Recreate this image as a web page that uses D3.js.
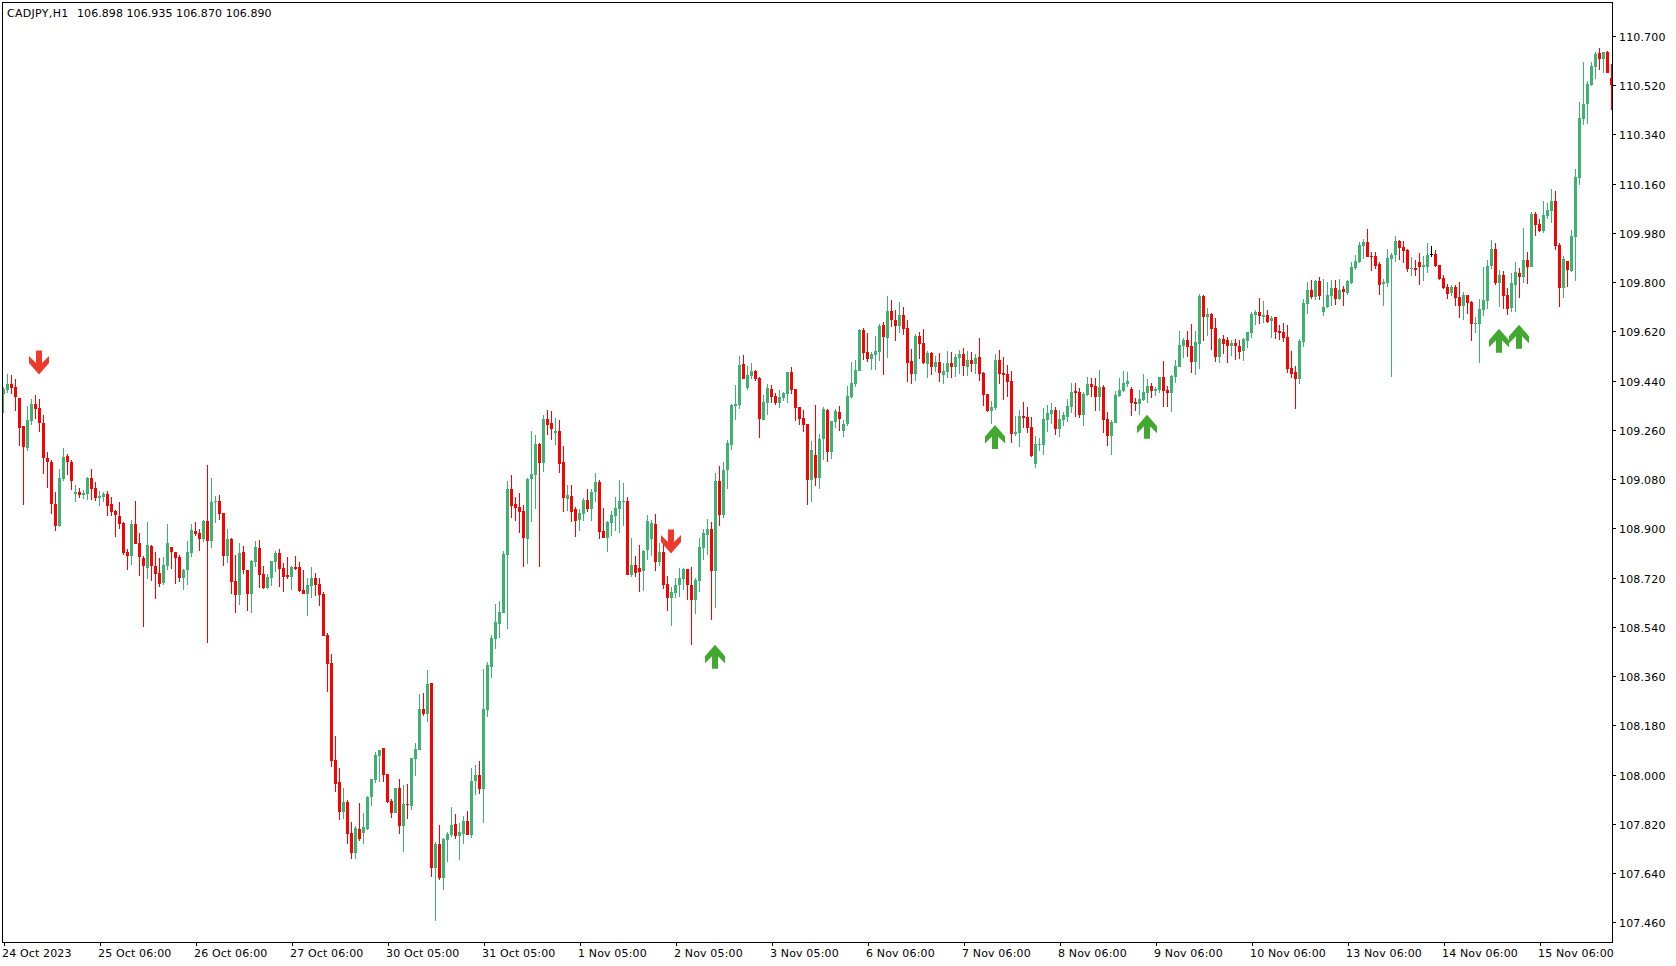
<!DOCTYPE html>
<html><head><meta charset="utf-8"><title>CADJPY,H1</title>
<script src="https://cdn.jsdelivr.net/npm/d3@7/dist/d3.min.js"></script>
<style>html,body{margin:0;padding:0;background:#fff}svg{display:block}text{font-family:"DejaVu Sans",sans-serif;font-size:11px;fill:#000}</style>
</head><body><div id="chart"></div>
<script>
const headerTitle="CADJPY,H1";
const headerValues="106.898 106.935 106.870 106.890";
const opens=[
109.391,109.406,109.428,109.417,109.376,109.274,109.194,109.292,109.354,109.340,
109.285,109.157,109.142,108.989,108.908,109.080,109.164,109.142,109.025,109.033,
109.022,109.025,109.084,109.047,109.011,109.014,109.025,108.989,108.963,108.945,
108.919,108.813,108.799,108.916,108.846,108.791,108.755,108.835,108.762,108.737,
108.700,108.762,108.832,108.813,108.795,108.718,108.748,108.810,108.890,108.883,
108.861,108.927,108.854,108.996,109.000,108.956,108.799,108.861,108.707,108.656,
108.813,108.748,108.660,108.777,108.828,108.733,108.682,108.718,108.777,108.810,
108.755,108.729,108.722,108.759,108.759,108.674,108.660,108.689,108.718,108.696,
108.660,108.510,108.408,108.053,107.973,107.863,107.900,107.786,107.713,107.801,
107.786,107.801,107.918,107.980,108.068,108.097,108.002,107.903,107.859,107.951,
107.812,107.892,107.885,108.057,108.090,108.240,108.221,108.335,107.658,107.746,
107.622,107.761,107.779,107.819,107.775,107.783,107.830,107.779,107.976,107.998,
107.947,108.236,108.393,108.495,108.550,108.590,108.802,109.044,108.989,108.978,
108.963,108.861,109.080,109.095,109.208,109.139,109.300,109.285,109.248,109.256,
109.142,109.007,109.018,108.970,108.930,108.952,109.003,108.970,109.033,109.069,
108.890,108.864,108.919,108.945,108.970,108.996,109.000,108.729,108.766,108.755,
108.744,108.821,108.861,108.916,108.777,108.813,108.696,108.645,108.663,108.693,
108.715,108.751,108.693,108.638,108.707,108.828,108.875,108.897,108.744,109.073,
108.949,109.113,109.204,109.347,109.351,109.500,109.413,109.457,109.475,109.449,
109.296,109.358,109.409,109.383,109.358,109.376,109.391,109.471,109.409,109.343,
109.303,109.281,109.076,109.168,109.084,109.226,109.332,109.179,109.288,109.325,
109.255,109.281,109.380,109.427,109.475,109.625,109.544,109.519,109.533,109.544,
109.643,109.596,109.694,109.661,109.639,109.680,109.632,109.511,109.464,109.603,
109.577,109.500,109.541,109.489,109.508,109.460,109.471,109.504,109.489,109.522,
109.537,109.489,109.515,109.500,109.526,109.468,109.391,109.329,109.340,109.515,
109.468,109.464,109.439,109.245,109.249,109.311,109.307,109.270,109.135,109.205,
109.205,109.296,109.318,109.333,109.263,109.296,109.307,109.344,109.402,109.399,
109.314,109.388,109.428,109.420,109.380,109.417,109.300,109.238,109.285,109.384,
109.402,109.428,109.409,109.362,109.355,109.369,109.395,109.420,109.402,109.406,
109.453,109.406,109.395,109.453,109.490,109.567,109.589,109.567,109.508,109.574,
109.749,109.673,109.684,109.632,109.526,109.592,109.589,109.567,109.578,109.567,
109.548,109.585,109.614,109.680,109.691,109.673,109.680,109.658,109.672,109.621,
109.618,109.599,109.486,109.471,109.446,109.581,109.720,109.771,109.745,109.804,
109.691,109.709,109.749,109.778,109.738,109.775,109.760,109.797,109.851,109.873,
109.932,109.947,109.895,109.895,109.866,109.793,109.797,109.884,109.899,109.950,
109.928,109.917,109.848,109.851,109.873,109.855,109.855,109.903,109.903,109.862,
109.815,109.782,109.760,109.782,109.745,109.713,109.753,109.727,109.647,109.647,
109.698,109.731,109.859,109.921,109.797,109.826,109.753,109.705,109.789,109.833,
109.819,109.881,109.855,110.049,110.012,109.987,110.041,110.060,110.096,109.936,
109.778,109.877,109.840,109.965,110.180,110.396,110.451,110.520,110.586,110.637,
110.616,110.641,110.546];
const highs=[
109.418,109.464,109.460,109.446,109.376,109.274,109.347,109.373,109.387,109.373,
109.314,109.179,109.150,109.033,109.117,109.194,109.172,109.150,109.058,109.047,
109.040,109.088,109.117,109.069,109.036,109.033,109.036,109.014,108.967,108.996,
108.923,108.824,108.930,109.000,108.883,108.799,108.923,108.839,108.813,108.791,
108.795,108.916,108.832,108.813,108.802,108.751,108.854,108.916,108.923,108.897,
108.930,109.131,109.084,109.018,109.022,108.956,108.897,108.865,108.802,108.846,
108.835,108.748,108.784,108.854,108.857,108.762,108.733,108.780,108.817,108.824,
108.773,108.795,108.762,108.799,108.777,108.748,108.718,108.759,108.737,108.718,
108.667,108.517,108.441,108.141,108.024,107.951,107.907,107.826,107.812,107.896,
107.859,107.922,107.984,108.082,108.090,108.097,108.002,107.911,107.951,107.984,
107.962,107.965,108.060,108.115,108.294,108.298,108.382,108.335,107.753,107.816,
107.768,107.790,107.881,107.856,107.823,107.848,107.867,108.024,108.035,108.049,
108.386,108.411,108.510,108.623,108.634,108.817,109.073,109.095,109.014,109.029,
108.985,109.084,109.256,109.241,109.212,109.314,109.332,109.329,109.303,109.296,
109.201,109.058,109.058,108.978,108.970,109.011,109.044,109.044,109.102,109.077,
108.974,108.927,108.963,109.014,109.077,109.066,109.014,108.864,108.799,108.839,
108.821,108.949,108.930,108.952,108.846,108.861,108.726,108.685,108.718,108.755,
108.755,108.751,108.758,108.718,108.864,108.897,108.934,108.923,109.102,109.128,
109.142,109.223,109.354,109.424,109.530,109.533,109.493,109.504,109.479,109.453,
109.387,109.427,109.424,109.394,109.405,109.398,109.471,109.489,109.409,109.343,
109.332,109.281,109.219,109.351,109.245,109.343,109.336,109.292,109.336,109.347,
109.296,109.420,109.508,109.515,109.628,109.632,109.614,109.544,109.603,109.647,
109.654,109.749,109.734,109.698,109.727,109.709,109.661,109.555,109.610,109.617,
109.628,109.548,109.544,109.530,109.541,109.504,109.548,109.544,109.537,109.552,
109.559,109.548,109.544,109.537,109.596,109.471,109.391,109.365,109.537,109.552,
109.526,109.497,109.475,109.311,109.333,109.362,109.344,109.307,109.238,109.230,
109.340,109.351,109.358,109.344,109.333,109.325,109.373,109.431,109.431,109.413,
109.399,109.453,109.450,109.450,109.479,109.424,109.325,109.296,109.402,109.450,
109.475,109.472,109.417,109.376,109.406,109.464,109.446,109.431,109.417,109.453,
109.512,109.420,109.461,109.515,109.622,109.596,109.622,109.647,109.622,109.757,
109.753,109.706,109.687,109.669,109.596,109.607,109.600,109.589,109.592,109.589,
109.596,109.618,109.691,109.698,109.742,109.731,109.698,109.676,109.672,109.643,
109.650,109.643,109.548,109.493,109.592,109.738,109.800,109.808,109.808,109.819,
109.811,109.800,109.808,109.808,109.811,109.786,109.808,109.873,109.899,109.947,
109.958,109.994,109.910,109.910,109.873,109.811,109.921,109.906,109.968,109.954,
109.950,109.921,109.892,109.881,109.906,109.895,109.943,109.932,109.917,109.862,
109.826,109.793,109.789,109.789,109.800,109.764,109.753,109.731,109.672,109.738,
109.855,109.881,109.954,109.943,109.844,109.840,109.778,109.833,109.873,109.851,
109.998,109.910,110.056,110.056,110.031,110.096,110.089,110.140,110.133,109.943,
109.895,109.877,109.990,110.213,110.458,110.605,110.535,110.605,110.641,110.656,
110.641,110.645,110.597];
const lows=[
109.320,109.395,109.391,109.329,109.201,108.985,109.183,109.278,109.300,109.252,
109.099,109.047,108.952,108.890,108.905,109.073,109.095,109.040,108.996,109.011,
109.007,109.003,109.003,109.000,108.982,108.996,108.945,108.945,108.868,108.897,
108.802,108.748,108.766,108.843,108.726,108.539,108.715,108.707,108.642,108.685,
108.693,108.748,108.751,108.696,108.704,108.674,108.693,108.795,108.872,108.817,
108.850,108.482,108.828,108.919,108.930,108.762,108.773,108.660,108.590,108.620,
108.733,108.598,108.590,108.759,108.682,108.678,108.678,108.689,108.740,108.685,
108.667,108.715,108.674,108.748,108.667,108.660,108.579,108.645,108.652,108.616,
108.507,108.302,108.028,107.936,107.834,107.837,107.746,107.691,107.691,107.757,
107.746,107.797,107.885,107.969,107.973,107.973,107.896,107.841,107.859,107.783,
107.717,107.837,107.870,107.995,108.090,108.214,108.192,107.625,107.465,107.614,
107.578,107.680,107.772,107.764,107.688,107.746,107.779,107.768,107.925,107.929,
107.823,108.210,108.353,108.459,108.499,108.590,108.532,108.938,108.927,108.883,
108.758,108.769,108.923,108.970,108.758,109.106,109.241,109.223,109.204,109.102,
108.960,108.963,108.923,108.868,108.890,108.927,108.960,108.927,108.996,108.861,
108.864,108.813,108.872,108.890,108.883,108.908,108.729,108.722,108.722,108.667,
108.671,108.784,108.799,108.744,108.762,108.678,108.598,108.543,108.645,108.649,
108.674,108.638,108.473,108.587,108.667,108.784,108.802,108.565,108.609,108.908,
108.938,109.044,109.186,109.296,109.336,109.446,109.405,109.446,109.438,109.230,
109.296,109.314,109.358,109.351,109.340,109.365,109.358,109.391,109.292,109.277,
109.252,108.985,108.996,109.054,109.043,109.149,109.142,109.153,109.266,109.255,
109.234,109.274,109.372,109.416,109.475,109.515,109.508,109.479,109.479,109.511,
109.460,109.522,109.636,109.585,109.614,109.606,109.435,109.427,109.438,109.519,
109.500,109.449,109.460,109.471,109.435,109.427,109.449,109.449,109.453,109.464,
109.457,109.457,109.471,109.464,109.438,109.347,109.325,109.281,109.332,109.428,
109.369,109.380,109.212,109.238,109.197,109.267,109.249,109.161,109.121,109.183,
109.168,109.252,109.282,109.241,109.234,109.274,109.289,109.322,109.307,109.303,
109.274,109.384,109.380,109.329,109.329,109.249,109.201,109.168,109.285,109.380,
109.399,109.417,109.311,109.329,109.314,109.366,109.358,109.376,109.384,109.395,
109.344,109.344,109.325,109.431,109.490,109.523,109.526,109.468,109.461,109.483,
109.585,109.603,109.552,109.508,109.505,109.537,109.505,109.530,109.515,109.519,
109.512,109.559,109.596,109.643,109.647,109.651,109.651,109.596,109.592,109.588,
109.581,109.468,109.449,109.336,109.427,109.563,109.683,109.738,109.735,109.735,
109.676,109.705,109.713,109.716,109.735,109.713,109.753,109.793,109.844,109.870,
109.884,109.892,109.841,109.848,109.753,109.713,109.782,109.453,109.873,109.881,
109.870,109.837,109.822,109.822,109.789,109.804,109.833,109.892,109.855,109.808,
109.775,109.738,109.749,109.713,109.669,109.661,109.683,109.585,109.614,109.504,
109.676,109.702,109.848,109.789,109.709,109.702,109.680,109.691,109.691,109.742,
109.797,109.793,109.855,109.968,109.983,109.979,110.031,110.016,109.917,109.709,
109.742,109.782,109.837,109.804,110.155,110.374,110.378,110.517,110.542,110.575,
110.564,110.564,110.429];
const closes=[
109.409,109.428,109.413,109.380,109.267,109.197,109.296,109.354,109.336,109.285,
109.157,109.142,108.989,108.908,109.084,109.161,109.142,109.073,109.033,109.022,
109.029,109.084,109.044,109.011,109.018,109.025,108.982,108.960,108.949,108.916,
108.810,108.799,108.916,108.843,108.795,108.762,108.839,108.762,108.733,108.696,
108.766,108.846,108.813,108.791,108.718,108.748,108.813,108.894,108.879,108.861,
108.927,108.854,108.996,109.000,108.952,108.799,108.861,108.704,108.656,108.810,
108.748,108.660,108.780,108.832,108.729,108.682,108.722,108.780,108.810,108.751,
108.722,108.722,108.759,108.751,108.671,108.660,108.693,108.718,108.693,108.656,
108.507,108.404,108.049,107.965,107.863,107.900,107.783,107.713,107.805,107.764,
107.808,107.918,107.984,108.071,108.090,107.998,107.900,107.859,107.951,107.812,
107.892,107.889,108.060,108.093,108.240,108.221,108.331,107.658,107.746,107.622,
107.764,107.783,107.816,107.775,107.790,107.830,107.779,107.976,107.998,107.947,
108.240,108.400,108.499,108.557,108.594,108.806,109.044,108.981,108.974,108.960,
108.864,109.080,109.098,109.208,109.139,109.300,109.278,109.263,109.256,109.135,
109.011,109.022,108.960,108.927,108.956,109.003,108.970,109.033,109.069,108.886,
108.864,108.923,108.949,108.974,109.000,109.000,108.729,108.766,108.736,108.740,
108.817,108.927,108.919,108.777,108.813,108.693,108.645,108.667,108.693,108.718,
108.751,108.693,108.638,108.711,108.832,108.883,108.897,108.744,109.073,108.949,
109.113,109.212,109.351,109.354,109.497,109.446,109.460,109.475,109.446,109.299,
109.362,109.413,109.380,109.358,109.380,109.394,109.471,109.405,109.340,109.299,
109.277,109.076,109.186,109.084,109.226,109.336,109.179,109.292,109.329,109.299,
109.281,109.383,109.431,109.479,109.625,109.541,109.519,109.537,109.548,109.639,
109.599,109.694,109.661,109.639,109.680,109.628,109.504,109.464,109.603,109.574,
109.504,109.541,109.489,109.508,109.468,109.475,109.504,109.489,109.526,109.537,
109.493,109.515,109.500,109.522,109.464,109.387,109.329,109.343,109.515,109.464,
109.461,109.435,109.245,109.252,109.311,109.303,109.267,109.165,109.208,109.208,
109.300,109.322,109.333,109.263,109.300,109.314,109.347,109.399,109.395,109.314,
109.391,109.428,109.417,109.380,109.417,109.296,109.238,109.289,109.387,109.406,
109.431,109.439,109.358,109.355,109.373,109.399,109.420,109.402,109.409,109.453,
109.402,109.395,109.457,109.494,109.570,109.589,109.563,109.508,109.581,109.749,
109.673,109.684,109.629,109.526,109.592,109.574,109.567,109.578,109.567,109.545,
109.592,109.618,109.684,109.691,109.676,109.680,109.654,109.669,109.618,109.614,
109.596,109.482,109.464,109.446,109.585,109.724,109.771,109.745,109.804,109.749,
109.709,109.753,109.778,109.738,109.771,109.764,109.804,109.855,109.877,109.936,
109.947,109.892,109.892,109.859,109.789,109.800,109.888,109.899,109.950,109.925,
109.914,109.848,109.851,109.844,109.855,109.862,109.899,109.903,109.859,109.811,
109.778,109.756,109.782,109.742,109.713,109.753,109.724,109.647,109.650,109.702,
109.734,109.859,109.921,109.797,109.826,109.749,109.702,109.797,109.837,109.819,
109.881,109.855,110.049,110.009,109.987,110.045,110.063,110.096,109.932,109.778,
109.884,109.844,109.968,110.184,110.400,110.451,110.524,110.590,110.634,110.616,
110.641,110.564,110.520];
const priceTicks=[110.7,110.52,110.34,110.16,109.98,109.8,109.62,109.44,109.26,109.08,108.9,108.72,108.54,108.36,108.18,108,107.82,107.64,107.46];
const timeTicks=[0,24,48,72,96,120,144,168,192,216,240,264,288,312,336,360,384];
const timeLabels=["24 Oct 2023","25 Oct 06:00","26 Oct 06:00","27 Oct 06:00","30 Oct 05:00","31 Oct 05:00","1 Nov 05:00","2 Nov 05:00","3 Nov 05:00","6 Nov 06:00","7 Nov 06:00","8 Nov 06:00","9 Nov 06:00","10 Nov 06:00","13 Nov 06:00","14 Nov 06:00","15 Nov 06:00"];
const arrowBars=[9,167,178,248,286,374,379];
const arrowPrices=[109.506,108.852,108.431,109.234,109.272,109.586,109.601];
const arrowDirs=[-1,-1,1,1,1,1,1];

const W=1676,H=966,L=2.5,T=2.5,R=1612.5,B=942.5;
const x=d3.scaleLinear().domain([0,402]).range([3.5,1611.5]);
const y=d3.scaleLinear().domain([110.7,107.46]).range([36,922.3]);
const svg=d3.select("#chart").append("svg").attr("width",W).attr("height",H);
svg.append("defs").append("clipPath").attr("id","plot").append("rect")
  .attr("x",3).attr("y",3).attr("width",R-3.5).attr("height",B-3.5);
const plot=svg.append("g").attr("clip-path","url(#plot)");
const bars=d3.range(opens.length);
const col=i=>closes[i]>opens[i]?"#3cb371":closes[i]<opens[i]?"#ff0000":"#000000";
plot.selectAll("rect.w").data(bars).join("rect").attr("class","w")
  .attr("x",i=>x(i)-.5).attr("width",1)
  .attr("y",i=>Math.round(y(highs[i])))
  .attr("height",i=>Math.max(1,Math.round(y(lows[i]))-Math.round(y(highs[i]))))
  .attr("fill",col).attr("shape-rendering","crispEdges");
plot.selectAll("rect.b").data(bars.filter(i=>opens[i]!==closes[i])).join("rect").attr("class","b")
  .attr("x",i=>x(i)-1.5).attr("width",3)
  .attr("y",i=>Math.round(y(Math.max(opens[i],closes[i]))))
  .attr("height",i=>Math.max(1,Math.round(y(Math.min(opens[i],closes[i])))-Math.round(y(Math.max(opens[i],closes[i])))))
  .attr("fill",col).attr("shape-rendering","crispEdges");
plot.selectAll("rect.d").data(bars.filter(i=>opens[i]===closes[i])).join("rect").attr("class","d")
  .attr("x",i=>x(i)-1.5).attr("width",3).attr("height",1)
  .attr("y",i=>Math.round(y(opens[i]))).attr("fill","#000").attr("shape-rendering","crispEdges");
const arrowPath="M-3,12 L-3,-0.5 L-10,6.5 L-10,-0.5 L0,-12 L10,-0.5 L10,6.5 L3,-0.5 L3,12 Z";
plot.selectAll("path.a").data(arrowBars.map((b,k)=>k)).join("path").attr("class","a")
  .attr("d",arrowPath)
  .attr("transform",k=>`translate(${x(arrowBars[k])-0.5},${y(arrowPrices[k])}) scale(1,${arrowDirs[k]})`)
  .attr("fill",k=>arrowDirs[k]<0?"#ee3a2c":"#41a92f");
const axR=svg.append("g").attr("transform",`translate(${R},0)`)
  .call(d3.axisRight(y).tickValues(priceTicks).tickSize(3).tickPadding(3.5).tickFormat(d=>d.toFixed(3)));
axR.select(".domain").remove();
axR.selectAll("text").attr("dy","0.41em");
const axB=svg.append("g").attr("transform",`translate(0,${B})`)
  .call(d3.axisBottom(x).tickValues(timeTicks).tickSize(3).tickPadding(4).tickFormat((d,i)=>timeLabels[i]));
axB.select(".domain").remove();
axB.selectAll("text").attr("text-anchor","start").attr("dx",-2);
svg.selectAll(".tick text").style("font-family",'"DejaVu Sans",sans-serif').style("font-size","11px").style("letter-spacing","0.15px").style("fill","#000");
svg.selectAll(".tick line").attr("stroke","#000").attr("shape-rendering","crispEdges");
svg.append("rect").attr("x",L).attr("y",T).attr("width",R-L).attr("height",B-T)
  .attr("fill","none").attr("stroke","#000").attr("shape-rendering","crispEdges");
svg.append("text").attr("x",7).attr("y",17).style("letter-spacing","0.3px").text(headerTitle);
svg.append("text").attr("x",77).attr("y",17).style("letter-spacing","0.07px").text(headerValues);
</script></body></html>
